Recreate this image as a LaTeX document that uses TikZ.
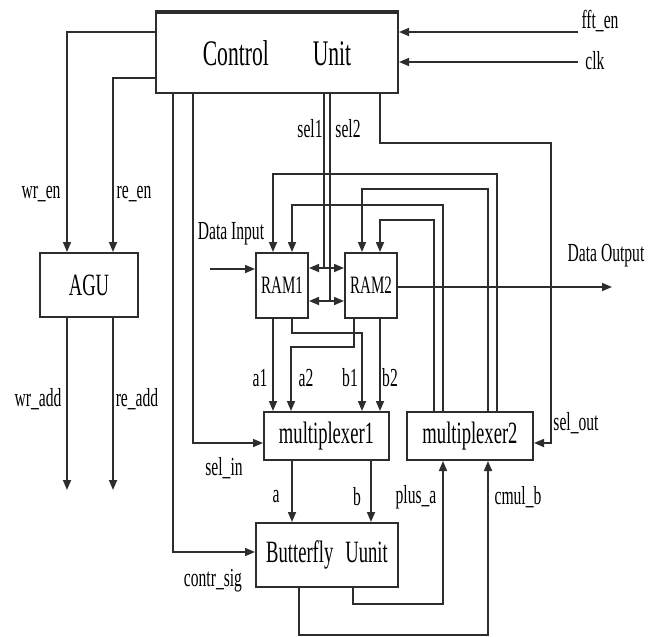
\documentclass[tikz,border=0pt]{standalone}
\usepackage{fontspec}
\newfontfamily\narrowserif{Liberation Serif}[FakeStretch=0.6]
\usetikzlibrary{arrows.meta, calc, positioning}
\definecolor{wiregray}{RGB}{45, 45, 45}
\tikzset{
    blk/.style={
        draw=wiregray,
        line width=2pt,
        inner sep=0pt,
        font=\narrowserif\fontsize{31pt}{31pt}\selectfont,
    },
    ramblk/.style={
        blk,
        minimum width=52pt,
        minimum height=65pt,
        font=\narrowserif\fontsize{25pt}{25pt}\selectfont,
    },
    wire/.style={
        line width=1.7pt,
        draw=wiregray,
    },
    arrow/.style={
        wire,
        -{Triangle[length=10pt, width=8pt]},
    },
    dbarrow/.style={
        wire,
        {Triangle[length=10pt, width=8pt]}-{Triangle[length=10pt, width=8pt]},
    },
    lbl/.style={
        font=\narrowserif\fontsize{26pt}{26pt}\selectfont,
        inner sep=0pt,
    },
}

\begin{document}
\begin{tikzpicture}[x=1pt, y=-1pt]
\useasboundingbox (0,0) rectangle (656,637);

% ===== blocks =====
\node[blk, minimum width=242pt, minimum height=80pt, font=\narrowserif\fontsize{36pt}{36pt}\selectfont] (cu) at (277, 53) {Control\hspace{44pt}Unit};
\draw[wiregray, line width=3.5pt] (cu.north west) -- (cu.north east);

\node[blk, minimum width=98pt, minimum height=64pt] (agu) at (89, 285) {AGU};
\node[ramblk] (ram1) at (282, 285.5) {RAM1};
\node[ramblk] (ram2) at (371, 285.5) {RAM2};
\node[blk, minimum width=125pt, minimum height=48pt] (mux1) at (326.5, 436) {multiplexer1};
\node[blk, minimum width=126pt, minimum height=48pt] (mux2) at (470, 436) {multiplexer2};
\node[blk, minimum width=142pt, minimum height=64pt] (bfly) at (327, 555) {Butterfly\hspace{12pt}Uunit};

% ===== outer ends =====
\coordinate (fften) at (578, 32);
\coordinate (clk) at (578, 62);
\coordinate (wradd) at (67, 490);
\coordinate (readd) at (113, 490);
\coordinate (din) at (210, 269);
\coordinate (dout) at (612, 287);

% ===== control unit =====
\draw[arrow] (fften) -- (cu.east |- fften);
\draw[arrow] (clk) -- (cu.east |- clk);
\draw[arrow] (cu.west |- 0,32) -| (agu.north -| 67,0);
\draw[arrow] (cu.west |- 0,78) -| (agu.north -| 113,0);
\draw[arrow] (cu.south -| 193,0) |- (mux1.west |- 0,443);
\draw[arrow] (cu.south -| 173,0) |- (bfly.west |- 0,552);
\draw[wire] (cu.south -| 324,0) -- (324, 268);
\draw[wire] (cu.south -| 330,0) -- (330, 301);
\draw[arrow] (cu.south -| 380,0) -- (380, 143) -| (551, 443) -- (mux2.east |- 0,443);

% ===== AGU =====
\draw[arrow] (agu.south -| wradd) -- (wradd);
\draw[arrow] (agu.south -| readd) -- (readd);

% ===== RAMs =====
\draw[arrow] (din) -- (ram1.west |- din);
\draw[arrow] (ram2.east |- dout) -- (dout);
\draw[dbarrow] (ram1.east |- 0,268) -- (ram2.west |- 0,268);
\draw[dbarrow] (ram1.east |- 0,301) -- (ram2.west |- 0,301);

% feedback from multiplexer2
\draw[arrow] (mux2.north -| 497,0) |- (273, 174) -- (ram1.north -| 273,0);
\draw[arrow] (mux2.north -| 488,0) |- (362, 189) -- (ram2.north -| 362,0);
\draw[arrow] (mux2.north -| 443,0) |- (292, 205) -- (ram1.north -| 292,0);
\draw[arrow] (mux2.north -| 434,0) |- (380, 220) -- (ram2.north -| 380,0);

% RAM -> multiplexer1
\draw[arrow] (ram1.south -| 273,0) -- (mux1.north -| 273,0);
\draw[arrow] (ram1.south -| 292,0) |- (362, 333) -- (mux1.north -| 362,0);
\draw[arrow] (ram2.south -| 354,0) |- (291, 347) -- (mux1.north -| 291,0);
\draw[arrow] (ram2.south -| 380,0) -- (mux1.north -| 380,0);

% ===== butterfly =====
\draw[arrow] (mux1.south -| 292,0) -- (bfly.north -| 292,0);
\draw[arrow] (mux1.south -| 371,0) -- (bfly.north -| 371,0);
\draw[arrow] (bfly.south -| 353,0) |- (443, 604) -- (mux2.south -| 443,0);
\draw[arrow] (bfly.south -| 299,0) |- (488, 635) -- (mux2.south -| 488,0);

% ===== labels =====
\node[lbl] (lfften) at (600, 21) {fft\_en};
\node[lbl] (lclk) at (595, 61) {clk};
\node[lbl] (lwren) at (41, 194) {wr\_en};
\node[lbl] (lreen) at (134, 194) {re\_en};
\node[lbl] (lwradd) at (38, 399) {wr\_add};
\node[lbl] (lreadd) at (137, 399) {re\_add};
\node[lbl] (lsel1) at (310, 129) {sel1};
\node[lbl] (lsel2) at (348, 129) {sel2};
\node[lbl] (ldin) at (231, 234) {Data Input};
\node[lbl] (ldout) at (606, 256) {Data Output};
\node[lbl] (la1) at (260, 378) {a1};
\node[lbl] (la2) at (306, 378) {a2};
\node[lbl] (lb1) at (350, 378) {b1};
\node[lbl] (lb2) at (390, 378) {b2};
\node[lbl] (lselin) at (224, 468) {sel\_in};
\node[lbl] (lselout) at (576, 423) {sel\_out};
\node[lbl] (la) at (276, 497) {a};
\node[lbl] (lb) at (357, 497) {b};
\node[lbl] (lplusa) at (416, 497) {plus\_a};
\node[lbl] (lcmulb) at (518, 497) {cmul\_b};
\node[lbl] (lcontr) at (213, 581) {contr\_sig};

\end{tikzpicture}
\end{document}
